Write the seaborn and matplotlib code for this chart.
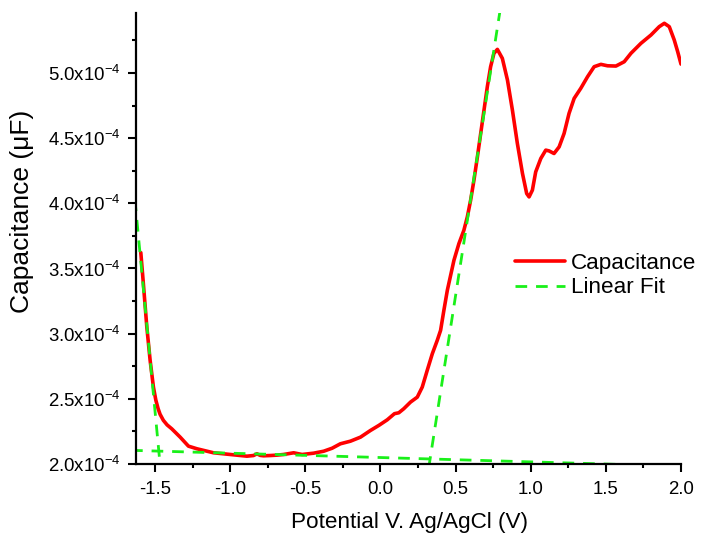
import numpy as np
import pandas as pd
import matplotlib
matplotlib.use("Agg")
import matplotlib.pyplot as plt
from matplotlib.ticker import MultipleLocator, FuncFormatter
import seaborn as sns

# Measured capacitance vs. potential (capacitance in units of 1e-4 uF)
potential_v = [
    -1.595, -1.578, -1.555, -1.533, -1.511, -1.495, -1.480, -1.467, -1.445, -1.420,
    -1.389, -1.333, -1.278, -1.222, -1.111, -1.000, -0.889, -0.845, -0.822, -0.800,
    -0.778, -0.733, -0.689, -0.645, -0.578, -0.522, -0.445, -0.378, -0.322, -0.267,
    -0.200, -0.133, -0.067, -0.011, 0.045, 0.093, 0.122, 0.155, 0.200, 0.245,
    0.278, 0.311, 0.345, 0.378, 0.400, 0.422, 0.445, 0.489, 0.522, 0.555,
    0.578, 0.600, 0.622, 0.645, 0.667, 0.689, 0.711, 0.733, 0.755, 0.778,
    0.811, 0.845, 0.878, 0.911, 0.945, 0.973, 0.989, 1.011, 1.033, 1.067,
    1.100, 1.122, 1.155, 1.189, 1.222, 1.255, 1.289, 1.333, 1.378, 1.422,
    1.467, 1.511, 1.567, 1.622, 1.667, 1.733, 1.800, 1.855, 1.889, 1.922,
    1.955, 1.978, 2.000,
]
capacitance_e4 = [
    3.622, 3.384, 3.051, 2.795, 2.590, 2.490, 2.425, 2.382, 2.335, 2.300,
    2.270, 2.206, 2.137, 2.117, 2.086, 2.073, 2.060, 2.065, 2.078, 2.066,
    2.063, 2.065, 2.068, 2.073, 2.086, 2.073, 2.083, 2.098, 2.121, 2.155,
    2.175, 2.206, 2.257, 2.296, 2.339, 2.386, 2.393, 2.424, 2.475, 2.513,
    2.590, 2.718, 2.846, 2.949, 3.025, 3.179, 3.333, 3.563, 3.691, 3.793,
    3.896, 4.024, 4.177, 4.356, 4.536, 4.715, 4.894, 5.048, 5.150, 5.181,
    5.112, 4.946, 4.715, 4.459, 4.229, 4.075, 4.049, 4.101, 4.241, 4.344,
    4.408, 4.402, 4.382, 4.433, 4.536, 4.690, 4.805, 4.882, 4.971, 5.048,
    5.066, 5.055, 5.053, 5.086, 5.151, 5.227, 5.291, 5.355, 5.381, 5.355,
    5.253, 5.163, 5.068,
]

# Linear fit segments (end points, capacitance in units of 1e-4 uF)
fit_left_v = [-1.66, -1.455]
fit_left_c = [4.343, 1.854]
fit_base_v = [-1.66, 2.00]
fit_base_c = [2.105, 1.983]
fit_right_v = [0.30, 0.81]
fit_right_c = [1.815, 5.584]

SCALE = 1e-4

sns.set_style("ticks")
plt.rcParams["font.family"] = ["Liberation Sans", "DejaVu Sans"]
plt.rcParams["mathtext.fontset"] = "custom"
plt.rcParams["mathtext.rm"] = "Liberation Sans"
plt.rcParams["mathtext.it"] = "Liberation Sans:italic"
plt.rcParams["mathtext.default"] = "rm"
plt.rcParams["axes.unicode_minus"] = False
for key in ("text.color", "axes.labelcolor", "xtick.color", "ytick.color",
            "axes.edgecolor"):
    plt.rcParams[key] = "black"

curve = pd.DataFrame({"V": potential_v, "C": np.array(capacitance_e4) * SCALE})
fits = []
for name, vs, cs in [("left", fit_left_v, fit_left_c),
                     ("base", fit_base_v, fit_base_c),
                     ("right", fit_right_v, fit_right_c)]:
    fits.append(pd.DataFrame({"V": vs, "C": np.array(cs) * SCALE, "seg": name}))

fig = plt.figure(figsize=(7.01, 5.35), dpi=100)
ax = fig.add_axes([136 / 701, 1 - 464 / 535, 545 / 701, 451 / 535])

red = "#ff0000"
green = "#19f019"
dash = (0, (4.2, 3.2))

sns.lineplot(data=curve, x="V", y="C", ax=ax, color=red, lw=2.6,
             sort=False, estimator=None, label="Capacitance", legend=False)
for i, seg in enumerate(fits):
    sns.lineplot(data=seg, x="V", y="C", ax=ax, color=green, lw=2.0,
                 linestyle=dash, sort=False, estimator=None,
                 label="Linear Fit" if i == 0 else None, legend=False)

ax.set_xlim(-1.627, 2.0)
ax.set_ylim(2.0e-4, 5.46e-4)

ax.xaxis.set_major_locator(MultipleLocator(0.5))
ax.xaxis.set_minor_locator(MultipleLocator(0.25))
ax.yaxis.set_major_locator(MultipleLocator(0.5e-4))
ax.yaxis.set_minor_locator(MultipleLocator(0.25e-4))
ax.xaxis.set_major_formatter(FuncFormatter(lambda v, p: f"{v:.1f}"))
ax.yaxis.set_major_formatter(
    FuncFormatter(lambda v, p: f"{v / SCALE:.1f}x10$^{{-4}}$"))

ax.tick_params(which="major", direction="out", length=6, width=1.5,
               labelsize=13.4, color="black", labelcolor="black", pad=5)
ax.tick_params(which="minor", direction="out", length=3, width=1.5,
               color="black")
ax.tick_params(axis="x", which="major", pad=6)

sns.despine(ax=ax)
for s in ("left", "bottom"):
    ax.spines[s].set_linewidth(1.6)
    ax.spines[s].set_color("black")

ax.set_xlabel("Potential V. Ag/AgCl (V)", fontsize=16.2, color="black")
ax.set_ylabel("Capacitance (μF)", fontsize=19, color="black")
ax.xaxis.set_label_coords((409.5 - 136) / 545, (464 - 512) / 451)
ax.yaxis.set_label_coords((34 - 136) / 545, (464 - 211.5) / 451)

handles, labels = ax.get_legend_handles_labels()
leg = ax.legend(handles, labels, loc="upper left",
                bbox_to_anchor=(515 / 701, 1 - 253 / 535),
                bbox_transform=fig.transFigure, frameon=False, fontsize=16.2,
                handlelength=2.2, handletextpad=0.3, labelspacing=0.15,
                borderpad=0, borderaxespad=0)
for t in leg.get_texts():
    t.set_color("black")

fig.savefig("out.png", dpi=100)
